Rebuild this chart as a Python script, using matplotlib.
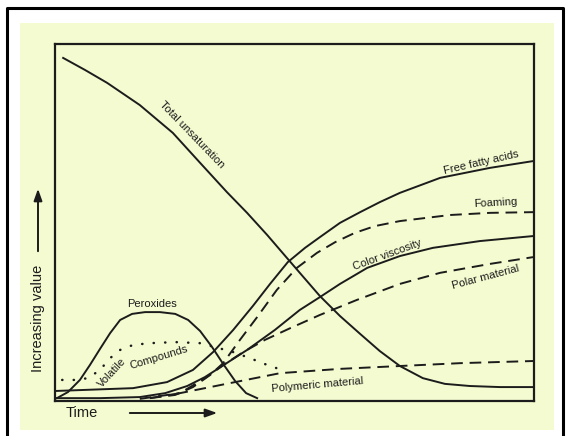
import matplotlib

matplotlib.use("Agg")
import matplotlib.pyplot as plt
from matplotlib.lines import Line2D
from matplotlib.patches import Rectangle

# curve data, x = time (0-100), y = relative value (0-100)
unsat_x = [1.7, 6.3, 10.9, 17.7, 24.6, 30.3, 35.9, 40.1, 44.3, 48.4, 52.2, 55.3, 59.5,
           63.7, 67.8, 72.0, 76.8, 81.4, 86.6, 92.9, 99.8]
unsat_y = [96.1, 92.7, 89.1, 82.9, 75.1, 66.7, 58.5, 52.7, 46.5, 40.1, 34.2, 29.4, 23.8,
           18.8, 14.0, 9.8, 6.4, 4.8, 4.2, 3.9, 3.9]

ffa_x = [0.0, 16.3, 23.4, 28.8, 33.0, 37.2, 41.3, 44.9, 48.6, 52.2, 55.3, 59.5, 63.7,
         67.8, 72.0, 80.4, 90.8, 99.8]
ffa_y = [2.8, 3.6, 5.3, 8.7, 13.7, 19.9, 26.6, 32.8, 38.9, 42.9, 45.9, 49.9, 52.9,
         55.7, 58.3, 62.5, 65.3, 67.2]

foam_x = [19.8, 25.1, 28.8, 32.4, 35.1, 38.6, 42.2, 46.3, 50.5, 54.7, 58.5, 62.6, 66.8,
          72.0, 82.5, 90.8, 99.8]
foam_y = [0.8, 1.7, 3.9, 7.3, 10.6, 17.1, 23.5, 31.1, 37.3, 41.5, 44.5, 47.1, 49.0,
          50.4, 52.1, 52.7, 52.9]

color_x = [0.0, 9.4, 17.7, 23.0, 27.6, 31.3, 34.9, 40.1, 45.9, 51.1, 55.3, 59.5, 65.2,
           72.0, 78.9, 88.7, 99.8]
color_y = [0.8, 0.8, 1.1, 2.2, 4.2, 6.7, 9.8, 14.3, 19.9, 25.5, 29.1, 32.8, 37.3,
           40.6, 42.9, 44.8, 46.2]

polar_x = [19.8, 26.1, 31.3, 35.5, 39.3, 43.8, 49.1, 55.3, 63.0, 72.0, 80.4, 90.8, 99.8]
polar_y = [0.8, 2.2, 6.4, 10.4, 13.7, 17.1, 20.4, 24.1, 28.3, 32.8, 35.9, 38.4, 40.3]

polymer_x = [17.7, 26.1, 36.5, 47.0, 59.5, 72.0, 84.6, 99.8]
polymer_y = [0.6, 2.2, 5.0, 7.8, 9.0, 9.8, 10.6, 11.2]

perox_x = [0.4, 2.7, 5.2, 7.3, 9.4, 11.5, 13.6, 16.1, 18.8, 21.9, 25.1, 27.8, 30.3,
           32.8, 35.1, 37.6, 39.9, 42.2]
perox_y = [0.8, 2.5, 5.9, 10.1, 14.6, 19.0, 22.7, 24.4, 24.9, 24.9, 24.4, 22.7, 19.6,
           15.1, 10.4, 5.6, 2.2, 0.8]

volatile_x = [1.5, 4.2, 6.9, 9.4, 11.5, 13.6, 16.3, 19.8, 25.1, 30.3, 33.4, 37.2, 40.7,
              44.3, 48.0]
volatile_y = [5.9, 5.9, 6.4, 8.7, 12.0, 14.3, 15.7, 16.2, 16.5, 16.2, 15.1, 13.7, 12.0,
              10.1, 8.4]

# curve labels: text, x, y, rotation
labels = [
    ("Total unsaturation", 28.6, 74.5, -46),
    ("Free fatty acids", 89.0, 66.9, 13),
    ("Foaming", 91.9, 55.5, 3),
    ("Color viscosity", 69.3, 40.9, 20),
    ("Polar material", 89.8, 34.7, 15),
    ("Peroxides", 20.3, 27.2, 0),
    ("Volatile", 11.9, 7.8, 47),
    ("Compounds", 21.7, 12.3, 17),
    ("Polymeric material", 54.7, 4.5, 5),
]

W, H = 566, 436
INK = "#1c1c1c"
PANEL = "#f4fbd0"
FONT = ["Liberation Sans", "DejaVu Sans"]


def fx(px: float) -> float:
    return px / W


def fy(py: float) -> float:
    return 1 - py / H


fig = plt.figure(figsize=(W / 100, H / 100), dpi=100)
fig.patch.set_facecolor("white")

fig.add_artist(Rectangle((fx(20), fy(430)), (554 - 20) / W, (430 - 23) / H,
                         transform=fig.transFigure, facecolor=PANEL, edgecolor="none", zorder=0))
# outer frame (left, top, right)
fig.add_artist(Line2D([fx(7), fx(7), fx(563), fx(563)], [fy(440), fy(8), fy(8), fy(440)],
                      transform=fig.transFigure, color="black", linewidth=2.2))

ax = fig.add_axes([fx(55), fy(401), 479 / W, 357 / H])
ax.set_facecolor("none")
ax.set_xlim(0, 100)
ax.set_ylim(0, 100)
ax.set_xticks([])
ax.set_yticks([])
for spine in ax.spines.values():
    spine.set_linewidth(1.6)
    spine.set_color(INK)

solid = dict(color=INK, linewidth=1.4, solid_joinstyle="round")
dashed = dict(color=INK, linewidth=1.4, linestyle=(0, (6, 3.5)))
ax.plot(unsat_x, unsat_y, **solid)
ax.plot(ffa_x, ffa_y, **solid)
ax.plot(color_x, color_y, **solid)
ax.plot(perox_x, perox_y, **solid)
ax.plot(foam_x, foam_y, **dashed)
ax.plot(polar_x, polar_y, **dashed)
ax.plot(polymer_x, polymer_y, **dashed)
ax.plot(volatile_x, volatile_y, color=INK, linewidth=1.8, linestyle=(0, (0.1, 4.5)),
        dash_capstyle="round")

for text, x, y, rot in labels:
    ax.text(x, y, text, rotation=rot, rotation_mode="anchor", ha="center", va="center",
            fontsize=8, color=INK, family=FONT)

# axis captions with arrows
fig.text(fx(82), fy(413), "Time", ha="center", va="center", fontsize=10.5, color=INK, family=FONT)
fig.text(fx(38), fy(318), "Increasing value", ha="center", va="center", rotation=90,
         fontsize=10.5, color=INK, family=FONT)
arrow = dict(arrowstyle="-|>,head_length=0.7,head_width=0.25", color=INK, linewidth=1.4)
ax.annotate("", xy=(220, H - 413), xytext=(127, H - 413), xycoords="figure pixels",
            textcoords="figure pixels", arrowprops=arrow, annotation_clip=False)
ax.annotate("", xy=(38, H - 186), xytext=(38, H - 254), xycoords="figure pixels",
            textcoords="figure pixels", arrowprops=arrow, annotation_clip=False)

fig.savefig("out.png", dpi=100, facecolor="white")
